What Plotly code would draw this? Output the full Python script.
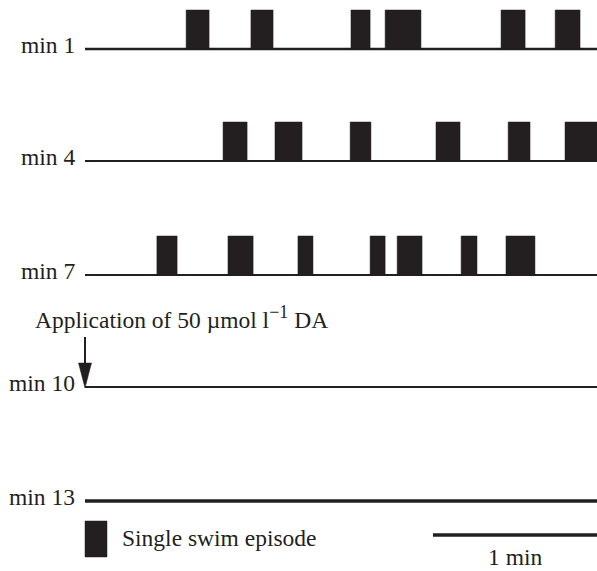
import plotly.graph_objects as go

# ---- data (seconds from start of each 3-min recording window) ----
row_labels = ["min 1", "min 4", "min 7", "min 10", "min 13"]
episode_starts = [
    [37.0, 60.7, 97.3, 109.8, 152.2, 172.0],
    [50.5, 69.5, 97.0, 128.4, 154.8, 175.6],
    [26.3, 52.3, 77.9, 104.3, 114.2, 137.6, 154.0],
    [],
    [],
]
episode_ends = [
    [45.4, 68.8, 104.3, 122.9, 161.0, 181.1],
    [59.3, 79.4, 104.6, 137.2, 162.8, 187.3],
    [33.7, 61.5, 83.4, 109.8, 123.3, 143.4, 164.6],
    [],
    [],
]
trace_length_sec = 187.3
scale_bar_sec = 60
scale_bar_label = "1 min"
application_text = ("Application of 50 \u00b5mol l<sup><span style='font-size:18px'>"
                    "\u22121</span></sup> DA")
legend_text = "Single swim episode"

# ---- layout (pixel-like vertical positions, seconds horizontally) ----
W, H = 597, 571
px_per_sec = (597 - 85) / trace_length_sec
x_min = -85 / px_per_sec
baselines = [49, 161, 275, 387, 501]
bar_h = 39
line_widths = [2.5, 2, 2, 1.8, 3.5]
ink = "#231f20"
font = dict(family="Liberation Serif, Times New Roman, serif", size=23.5, color=ink)

fig = go.Figure()
for i, lab in enumerate(row_labels):
    b = baselines[i]
    fig.add_trace(go.Scatter(x=[0, trace_length_sec], y=[b, b], mode="lines",
                             line=dict(color=ink, width=line_widths[i]),
                             hoverinfo="skip", showlegend=False))
    xs, ys = [], []
    for s, e in zip(episode_starts[i], episode_ends[i]):
        xs += [s, s, e, e, s, None]
        ys += [b, b - bar_h, b - bar_h, b, b, None]
    if xs:
        fig.add_trace(go.Scatter(x=xs, y=ys, mode="lines", fill="toself",
                                 fillcolor=ink, line=dict(color=ink, width=0.5),
                                 hoverinfo="skip", showlegend=False))
    fig.add_annotation(x=-8 / px_per_sec, y=b - 4, text=lab, showarrow=False,
                       xanchor="right", yanchor="middle", font=font)

# application arrow (shaft + narrow head) + text
tip = baselines[3] + 1
head_len, head_half = 25, 6.5 / px_per_sec
fig.add_shape(type="line", x0=0, x1=0, y0=337, y1=tip - head_len + 2,
              line=dict(color=ink, width=2))
fig.add_shape(type="path",
              path=f"M {-head_half} {tip - head_len} L {head_half} {tip - head_len} L 0 {tip} Z",
              fillcolor=ink, line=dict(color=ink, width=0.5))
fig.add_annotation(x=-52 / px_per_sec, y=317, text=application_text, showarrow=False,
                   xanchor="left", yanchor="middle", font=font)

# legend swatch
fig.add_shape(type="rect", x0=0, x1=22 / px_per_sec, y0=521, y1=557,
              fillcolor=ink, line=dict(color=ink, width=0.5))
fig.add_annotation(x=35 / px_per_sec, y=538, text=legend_text, showarrow=False,
                   xanchor="left", yanchor="middle", font=font)

# scale bar
sb0 = trace_length_sec - scale_bar_sec
fig.add_trace(go.Scatter(x=[sb0, trace_length_sec], y=[535, 535], mode="lines",
                         line=dict(color=ink, width=3.5), hoverinfo="skip",
                         showlegend=False))
fig.add_annotation(x=(sb0 + trace_length_sec) / 2, y=557, text=scale_bar_label,
                   showarrow=False, xanchor="center", yanchor="middle", font=font)

fig.update_xaxes(range=[x_min, trace_length_sec], visible=False, fixedrange=True)
fig.update_yaxes(range=[H, 0], visible=False, fixedrange=True)
fig.update_layout(width=W, height=H, margin=dict(l=0, r=0, t=0, b=0),
                  paper_bgcolor="white", plot_bgcolor="white", showlegend=False)

fig.write_html("out.html", config={"displayModeBar": False},
               post_script="document.body.style.margin='0';document.body.style.overflow='hidden';")
